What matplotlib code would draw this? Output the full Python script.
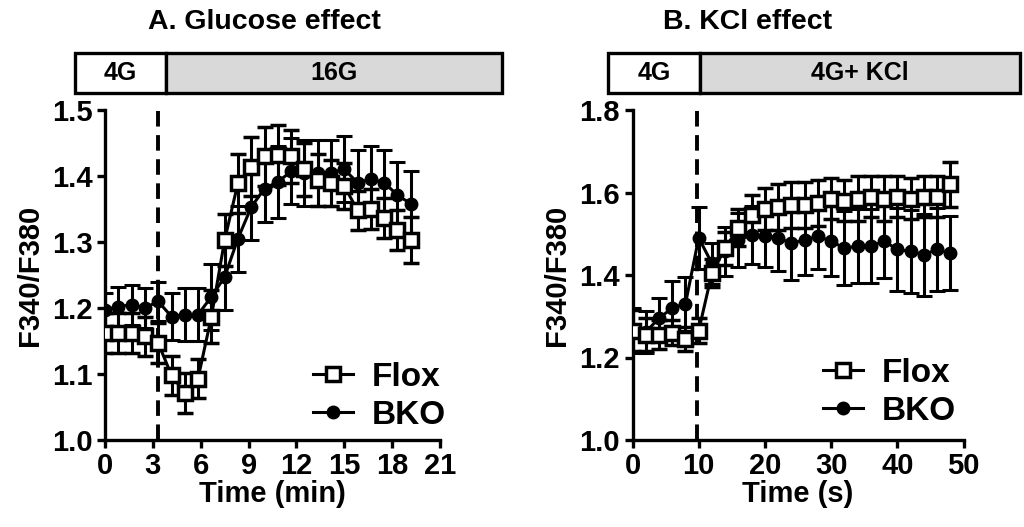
import matplotlib
matplotlib.use("Agg")
import matplotlib.pyplot as plt
import matplotlib.transforms as mtransforms
from matplotlib.patches import Rectangle
from matplotlib.lines import Line2D

plt.rcParams['font.family'] = ['Liberation Sans', 'DejaVu Sans']
plt.rcParams['font.weight'] = 'bold'

# ---------------- Data: Panel A (glucose) ----------------
a_time = [0.0, 0.83, 1.67, 2.5, 3.33, 4.17, 5.0, 5.83, 6.67, 7.5, 8.33, 9.17,
          10.0, 10.83, 11.67, 12.5, 13.33, 14.17, 15.0, 15.83, 16.67, 17.5, 18.33, 19.17]
a_flox = [1.162, 1.162, 1.162, 1.157, 1.147, 1.098, 1.071, 1.093, 1.187, 1.303, 1.389, 1.414,
          1.430, 1.432, 1.430, 1.410, 1.394, 1.390, 1.385, 1.348, 1.350, 1.336, 1.318, 1.303]
a_flox_err = [0.03, 0.03, 0.03, 0.03, 0.03, 0.03, 0.03, 0.03, 0.04, 0.04, 0.045, 0.045,
              0.045, 0.045, 0.04, 0.04, 0.04, 0.035, 0.035, 0.03, 0.03, 0.03, 0.03, 0.035]
a_bko = [1.197, 1.202, 1.205, 1.200, 1.210, 1.187, 1.190, 1.190, 1.217, 1.247, 1.305, 1.353,
         1.381, 1.391, 1.407, 1.405, 1.405, 1.405, 1.410, 1.390, 1.395, 1.390, 1.371, 1.358]
a_bko_err = [0.025, 0.03, 0.03, 0.03, 0.03, 0.035, 0.04, 0.04, 0.05, 0.05, 0.05, 0.05,
             0.05, 0.055, 0.05, 0.05, 0.05, 0.05, 0.05, 0.05, 0.05, 0.05, 0.05, 0.05]
a_switch = 3.3
a_bar_edges = [-1.9, 3.8, 24.9]
a_bar_labels = ['4G', '16G']
a_xticks = [0, 3, 6, 9, 12, 15, 18, 21]
a_yticks = [1.0, 1.1, 1.2, 1.3, 1.4, 1.5]

# ---------------- Data: Panel B (KCl) ----------------
b_time = [0, 2, 4, 6, 8, 10, 12, 14, 16, 18, 20, 22, 24, 26, 28, 30, 32, 34, 36, 38, 40, 42, 44, 46, 48]
b_flox = [1.265, 1.255, 1.255, 1.26, 1.245, 1.265, 1.405, 1.465, 1.515, 1.545, 1.56, 1.565, 1.57,
          1.57, 1.575, 1.585, 1.58, 1.585, 1.59, 1.585, 1.59, 1.585, 1.59, 1.59, 1.62]
b_flox_err = [0.05, 0.04, 0.035, 0.03, 0.03, 0.03, 0.035, 0.04, 0.045, 0.05, 0.05, 0.055, 0.055,
              0.055, 0.055, 0.05, 0.05, 0.055, 0.05, 0.055, 0.05, 0.05, 0.05, 0.05, 0.055]
b_bko = [1.265, 1.262, 1.295, 1.32, 1.33, 1.49, 1.428, 1.457, 1.485, 1.497, 1.494, 1.49, 1.477,
         1.485, 1.494, 1.482, 1.465, 1.47, 1.47, 1.482, 1.462, 1.457, 1.449, 1.462, 1.453]
b_bko_err = [0.055, 0.05, 0.05, 0.065, 0.065, 0.075, 0.05, 0.06, 0.065, 0.07, 0.075, 0.08, 0.09,
             0.085, 0.08, 0.085, 0.09, 0.09, 0.09, 0.09, 0.1, 0.1, 0.1, 0.1, 0.09]
b_switch = 9.8
b_bar_edges = [-3.7, 10.15, 58.6]
b_bar_labels = ['4G', '4G+ KCl']
b_xticks = [0, 10, 20, 30, 40, 50]
b_yticks = [1.0, 1.2, 1.4, 1.6, 1.8]

FS = 21
LW = 2.2

fig = plt.figure(figsize=(10.24, 5.27), dpi=100)
axA = fig.add_axes([105/1024, 87/527, 335/1024, 330/527])
axB = fig.add_axes([632.5/1024, 87/527, 331/1024, 330/527])

flox_style = dict(color='black', lw=LW, marker='s', ms=10, mfc='white', mec='black', mew=2.5)
bko_style = dict(color='black', lw=LW, marker='o', ms=9, mfc='black', mec='black')


def panel(ax, t, fl, fle, bk, bke, switch, edges, labels, xticks, yticks, xlabel, leg_anchor):
    ax.errorbar(t, bk, yerr=bke, elinewidth=LW, capsize=6, capthick=LW, zorder=3, **bko_style)
    ax.errorbar(t, fl, yerr=fle, elinewidth=LW, capsize=6, capthick=LW, zorder=4, **flox_style)
    ax.axvline(switch, color='black', lw=2.8, dashes=(4, 2.2), zorder=2)
    ax.set_xlim(xticks[0], xticks[-1])
    ax.set_ylim(yticks[0], yticks[-1])
    ax.set_xticks(xticks)
    ax.set_yticks(yticks)
    ax.set_yticklabels([f'{v:.1f}' for v in yticks])
    for s in ['top', 'right']:
        ax.spines[s].set_visible(False)
    for s in ['left', 'bottom']:
        ax.spines[s].set_linewidth(2.4)
    ax.tick_params(direction='out', length=6, width=2.4, labelsize=FS, pad=3)
    for lab in ax.get_xticklabels() + ax.get_yticklabels():
        lab.set_fontweight('bold')
    ax.set_xlabel(xlabel, fontsize=FS, fontweight='bold', labelpad=0)
    ax.set_ylabel('F340/F380', fontsize=FS, fontweight='bold', labelpad=6)
    handles = [Line2D([], [], **flox_style), Line2D([], [], **bko_style)]
    ax.legend(handles, ['Flox', 'BKO'], loc='upper left', bbox_to_anchor=leg_anchor,
              frameon=False, handlelength=1.2, handletextpad=0.55, labelspacing=0.2,
              borderpad=0, borderaxespad=0, prop={'weight': 'bold', 'size': 24})
    # treatment bar
    trans = mtransforms.blended_transform_factory(ax.transData, ax.transAxes)
    y0, y1 = 1.052, 1.173
    colors = ['white', '#d9d9d9']
    for i, lab in enumerate(labels):
        r = Rectangle((edges[i], y0), edges[i + 1] - edges[i], y1 - y0, transform=trans,
                      facecolor=colors[i], edgecolor='black', lw=2.4, clip_on=False)
        ax.add_patch(r)
        ax.text((edges[i] + edges[i + 1]) / 2, (y0 + y1) / 2, lab, transform=trans,
                ha='center', va='center', fontsize=18, fontweight='bold')


panel(axA, a_time, a_flox, a_flox_err, a_bko, a_bko_err, a_switch, a_bar_edges, a_bar_labels,
      a_xticks, a_yticks, 'Time (min)', (0.621, 0.236))
panel(axB, b_time, b_flox, b_flox_err, b_bko, b_bko_err, b_switch, b_bar_edges, b_bar_labels,
      b_xticks, b_yticks, 'Time (s)', (0.576, 0.248))

fig.text(264/1024, 1 - 22/527, 'A. Glucose effect', ha='center', va='center', fontsize=20.5,
         fontweight='bold')
fig.text(748/1024, 1 - 22/527, 'B. KCl effect', ha='center', va='center', fontsize=20.5,
         fontweight='bold')

fig.savefig('out.png', dpi=100)
